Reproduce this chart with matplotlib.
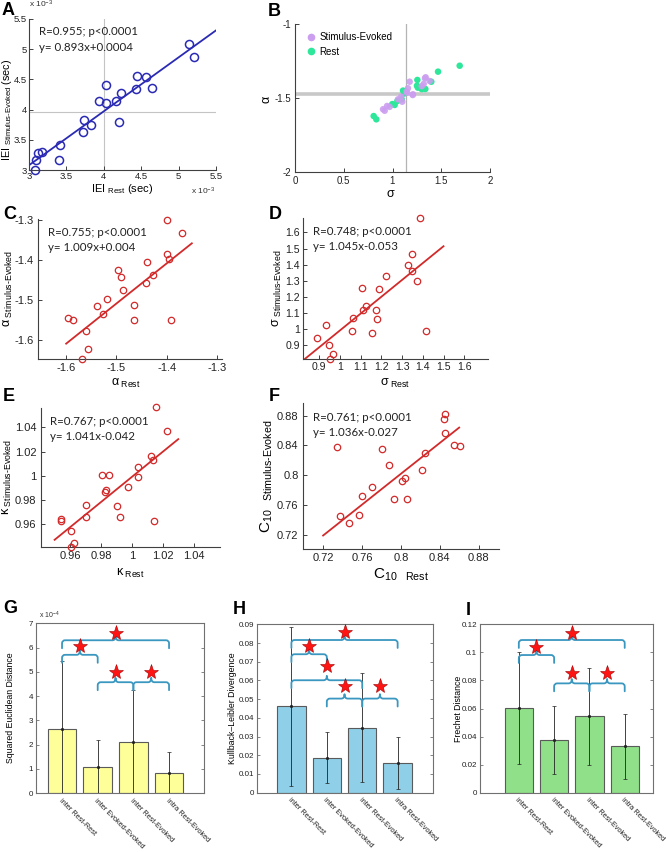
import numpy as np
import matplotlib
matplotlib.use('Agg')
import matplotlib.pyplot as plt
from matplotlib.path import Path
from matplotlib.patches import PathPatch
from matplotlib.ticker import FuncFormatter
from matplotlib.lines import Line2D

plt.rcParams['font.family'] = ['Liberation Sans', 'DejaVu Sans']
plt.rcParams['mathtext.fontset'] = 'custom'
plt.rcParams['mathtext.rm'] = 'Liberation Sans'
plt.rcParams['mathtext.it'] = 'Liberation Sans:italic'
plt.rcParams['mathtext.bf'] = 'Liberation Sans:bold'
plt.rcParams['axes.unicode_minus'] = False

# ---------------- data ----------------
# A: inter-event intervals (x 1e-3 s)
iei_rest = [5.139, 5.210, 4.439, 4.564, 4.430, 4.640, 4.025, 4.234, 3.931, 4.025, 4.159,
            4.199, 3.735, 3.824, 3.726, 3.414, 3.397, 3.089, 3.125, 3.169, 3.080]
iei_evoked = [5.092, 4.876, 4.551, 4.534, 4.336, 4.352, 4.402, 4.269, 4.137, 4.104, 4.142,
              3.789, 3.822, 3.740, 3.629, 3.419, 3.171, 3.160, 3.287, 3.298, 3.000]
fit_A = (0.893, 0.4)
iei_mean_rest = 4.0
iei_mean_evoked = 3.96

# B: sigma vs alpha
b_sigma_rest = [1.689, 1.467, 1.255, 1.251, 1.296, 1.337, 1.108, 0.998, 1.022, 0.807, 0.834,
                1.398, 1.120, 1.300, 1.260, 1.094, 1.050, 1.140]
b_alpha_rest = [-1.282, -1.322, -1.378, -1.417, -1.435, -1.439, -1.450, -1.541, -1.547, -1.622,
                -1.644, -1.390, -1.470, -1.440, -1.430, -1.509, -1.520, -1.460]
b_sigma_evoked = [1.176, 1.340, 1.381, 1.320, 1.159, 1.210, 1.149, 1.056, 1.100, 0.944, 0.903,
                  0.920, 1.090, 1.333, 1.300, 1.145, 0.970, 1.207]
b_alpha_evoked = [-1.390, -1.360, -1.385, -1.405, -1.434, -1.475, -1.464, -1.509, -1.525, -1.554,
                  -1.576, -1.586, -1.491, -1.367, -1.420, -1.457, -1.560, -1.480]
b_alpha_ref = -1.473
b_sigma_ref = 1.14

# C: alpha
alpha_rest = [-1.399, -1.369, -1.399, -1.396, -1.439, -1.496, -1.491, -1.427, -1.442, -1.486, -1.518,
              -1.539, -1.465, -1.526, -1.596, -1.586, -1.465, -1.391, -1.561, -1.557, -1.569]
alpha_evoked = [-1.300, -1.333, -1.386, -1.397, -1.406, -1.424, -1.443, -1.439, -1.459, -1.475, -1.497,
                -1.516, -1.514, -1.537, -1.547, -1.551, -1.551, -1.551, -1.579, -1.625, -1.648]
fit_C = (1.009, 0.004)

# D: sigma
sigma_rest = [1.384, 1.348, 1.327, 1.348, 1.223, 1.371, 1.108, 1.189, 1.126, 1.111, 1.174,
              1.181, 1.065, 1.058, 0.931, 1.155, 1.415, 0.887, 0.947, 0.965, 0.952]
sigma_evoked = [1.688, 1.469, 1.400, 1.363, 1.327, 1.296, 1.258, 1.250, 1.146, 1.117, 1.117,
                1.063, 1.071, 0.988, 1.025, 0.973, 0.988, 0.942, 0.902, 0.844, 0.815]
fit_D = (1.045, -0.053)

# E: kappa
kappa_rest = [1.0153, 1.0230, 1.0125, 1.0138, 1.0041, 1.0039, 0.9806, 0.9854, 0.9978, 0.9830, 0.9826,
              0.9701, 0.9901, 0.9701, 0.9925, 0.9540, 0.9542, 1.0146, 0.9606, 0.9628, 0.9606]
kappa_evoked = [1.0572, 1.0369, 1.0167, 1.0133, 1.0075, 0.9986, 1.0006, 1.0006, 0.9903, 0.9883, 0.9861,
                0.9761, 0.9750, 0.9656, 0.9656, 0.9644, 0.9625, 0.9625, 0.9539, 0.9439, 0.9411]
fit_E = (1.041, -0.042)

# F: C10
c10_rest = [0.8458, 0.8444, 0.8458, 0.8547, 0.8609, 0.7339, 0.7811, 0.8248, 0.7880, 0.8217,
            0.8041, 0.8010, 0.7708, 0.7601, 0.7928, 0.8062, 0.7573, 0.7377, 0.7470]
c10_evoked = [0.8818, 0.8751, 0.8568, 0.8402, 0.8393, 0.8380, 0.8349, 0.8304, 0.8143, 0.8063,
              0.7964, 0.7920, 0.7839, 0.7718, 0.7678, 0.7678, 0.7468, 0.7450, 0.7361]
fit_F = (1.036, -0.027)

stats_A = ['R=0.955; p<0.0001', 'y= 0.893x+0.0004']
stats_C = ['R=0.755; p<0.0001', 'y= 1.009x+0.004']
stats_D = ['R=0.748; p<0.0001', 'y= 1.045x-0.053']
stats_E = ['R=0.767; p<0.0001', 'y= 1.041x-0.042']
stats_F = ['R=0.761; p<0.0001', 'y= 1.036x-0.027']

# G-I bar charts
categories = ['inter Rest-Rest', 'inter Evoked-Evoked', 'inter Rest-Evoked', 'intra Rest-Evoked']
sed_mean = [2.65, 1.08, 2.10, 0.83]      # x 1e-4
sed_sd = [2.80, 1.12, 2.15, 0.87]
kl_mean = [0.0462, 0.0188, 0.0347, 0.0157]
kl_sd = [0.0426, 0.0138, 0.0292, 0.0139]
fr_mean = [0.0606, 0.0377, 0.0543, 0.0332]
fr_sd = [0.0399, 0.0242, 0.0348, 0.0232]

# significance brackets: (bar i, bar j, bracket level, star level)
sig_G = [(1, 4, 6.30, 6.62), (1, 2, 5.70, 6.05), (2, 3, 4.57, 4.98), (3, 4, 4.57, 4.98)]
sig_H = [(1, 4, 0.0816, 0.0857), (1, 2, 0.0740, 0.0785), (1, 3, 0.0601, 0.0675),
         (2, 3, 0.0503, 0.0568), (3, 4, 0.0503, 0.0568)]
sig_I = [(1, 4, 0.1088, 0.1140), (1, 2, 0.0981, 0.1040), (2, 3, 0.0779, 0.0855), (3, 4, 0.0779, 0.0855)]

# ---------------- figure ----------------
W, H = 666, 852
fig = plt.figure(figsize=(W / 100, H / 100), dpi=100)


def add_ax(left, top, right, bottom):
    return fig.add_axes([left / W, 1 - bottom / H, (right - left) / W, (bottom - top) / H])


fmt = FuncFormatter(lambda v, p: ('%g' % round(v, 6)))
SPINE = '#404040'
RED = '#d22a2a'
BLUE = '#2a2ab4'


def style_open(ax, fs, pad=3):
    for s in ('top', 'right'):
        ax.spines[s].set_visible(False)
    for s in ('left', 'bottom'):
        ax.spines[s].set_color(SPINE)
        ax.spines[s].set_linewidth(0.8)
    ax.tick_params(direction='in', length=3, width=0.7, labelsize=fs, colors=SPINE,
                   labelcolor='#222222', pad=pad)
    ax.xaxis.set_major_formatter(fmt)
    ax.yaxis.set_major_formatter(fmt)


def scatter_panel(ax, x, y, fit, xr, color, ms, mew, stats, tpos, fs, pad=3):
    ax.plot(x, y, 'o', mfc='none', mec=color, ms=ms, mew=mew, clip_on=False, zorder=3)
    xx = np.array(xr)
    ax.plot(xx, fit[0] * xx + fit[1], color=color, lw=1.3, zorder=2)
    style_open(ax, fs, pad)
    ax.text(tpos[0], tpos[1], stats[0], transform=ax.transAxes, fontsize=8.3,
            family=['Lato', 'DejaVu Sans'], color='#222222', va='center', ha='left')
    ax.text(tpos[0], tpos[2], stats[1], transform=ax.transAxes, fontsize=8.3,
            family=['Lato', 'DejaVu Sans'], color='#222222', va='center', ha='left')


# ---- A ----
axA = add_ax(29, 19, 216, 170)
axA.axvline(iei_mean_rest, color='#c4c4c4', lw=0.8, zorder=1)
axA.axhline(iei_mean_evoked, color='#c4c4c4', lw=0.8, zorder=1)
scatter_panel(axA, iei_rest, iei_evoked, fit_A, (3.0, 5.5), BLUE, 5.8, 1.1, stats_A,
              (0.055, 0.914, 0.808), 6.8, pad=1.5)
axA.set_xlim(3, 5.5)
axA.set_ylim(3, 5.5)
axA.set_xticks([3, 3.5, 4, 4.5, 5, 5.5])
axA.set_yticks([3, 3.5, 4, 4.5, 5, 5.5])
axA.set_xlabel(r'IEI ${}_{\text{Rest}}$ (sec)', fontsize=8)
axA.xaxis.set_label_coords(0.5, -0.08)
axA.set_ylabel(r'IEI ${}_{\text{Stimulus-Evoked}}$ (sec)', fontsize=7.8)
axA.yaxis.set_label_coords(-0.08, 0.40)
axA.text(0.0, 1.095, r'x 10$^{\mathregular{-3}}$', transform=axA.transAxes, fontsize=6,
         color='#333333', ha='left', va='center')
axA.text(0.995, -0.14, r'x 10$^{\mathregular{-3}}$', transform=axA.transAxes, fontsize=6,
         color='#333333', ha='right', va='center')

# ---- B ----
axB = add_ax(295, 24, 490, 172)
axB.axhline(b_alpha_ref, color='#c8c8c8', lw=2.6, zorder=1)
axB.axvline(b_sigma_ref, color='#b4b4b4', lw=0.9, zorder=1)
axB.scatter(b_sigma_rest, b_alpha_rest, s=22, color='#2ee79b', edgecolors='none', zorder=3)
axB.scatter(b_sigma_evoked, b_alpha_evoked, s=22, color='#cc9ef0', edgecolors='none', zorder=3,
            alpha=0.9)
style_open(axB, 7)
axB.set_xlim(0, 2)
axB.set_ylim(-2, -1)
axB.set_xticks([0, 0.5, 1, 1.5, 2])
axB.set_yticks([-2, -1.5, -1])
axB.set_xlabel(r'$\mathregular{σ}$', fontsize=9)
axB.xaxis.set_label_coords(0.49, -0.108)
axB.set_ylabel(r'$\mathregular{α}$', fontsize=9, rotation=90)
axB.yaxis.set_label_coords(-0.113, 0.49)
hB = [Line2D([], [], marker='o', ls='none', color='#cc9ef0', ms=4.5),
      Line2D([], [], marker='o', ls='none', color='#2ee79b', ms=4.5)]
axB.legend(hB, ['Stimulus-Evoked', 'Rest'], loc='upper left', bbox_to_anchor=(0.03, 0.97),
           frameon=False, fontsize=7, handletextpad=0.3, borderaxespad=0, labelspacing=0.45,
           handlelength=1.2)

# ---- C ----
axC = add_ax(38, 219, 222, 359)
scatter_panel(axC, alpha_rest, alpha_evoked, fit_C, (-1.6, -1.35), RED, 4.6, 0.9, stats_C,
              (0.056, 0.907, 0.795), 8)
axC.set_xlim(-1.656, -1.29)
axC.set_ylim(-1.649, -1.297)
axC.set_xticks([-1.6, -1.5, -1.4, -1.3])
axC.set_yticks([-1.6, -1.5, -1.4, -1.3])
axC.set_xlabel(r'$\mathregular{α}{}_{\ \text{Rest}}$', fontsize=9)
axC.xaxis.set_label_coords(0.48, -0.126)
axC.set_ylabel(r'$\mathregular{α}{}_{\ \text{Stimulus-Evoked}}$', fontsize=9)
axC.yaxis.set_label_coords(-0.125, 0.5)

# ---- D ----
axD = add_ax(303, 218, 488, 359)
scatter_panel(axD, sigma_rest, sigma_evoked, fit_D, (0.8, 1.5), RED, 4.6, 0.9, stats_D,
              (0.052, 0.903, 0.801), 7.6, pad=2)
axD.set_xlim(0.821, 1.715)
axD.set_ylim(0.814, 1.69)
axD.set_xticks([0.9, 1, 1.1, 1.2, 1.3, 1.4, 1.5, 1.6])
axD.set_yticks([0.9, 1, 1.1, 1.2, 1.3, 1.4, 1.5, 1.6])
axD.set_xlabel(r'$\mathregular{σ}{}_{\ \text{Rest}}$', fontsize=9)
axD.xaxis.set_label_coords(0.50, -0.125)
axD.set_ylabel(r'$\mathregular{σ}{}_{\ \text{Stimulus-Evoked}}$', fontsize=9)
axD.yaxis.set_label_coords(-0.10, 0.5)

# ---- E ----
axE = add_ax(40.7, 408, 220, 547)
scatter_panel(axE, kappa_rest, kappa_evoked, fit_E, (0.95, 1.03), RED, 4.6, 0.9, stats_E,
              (0.052, 0.906, 0.794), 8)
axE.set_xlim(0.941, 1.057)
axE.set_ylim(0.941, 1.056)
axE.set_xticks([0.96, 0.98, 1, 1.02, 1.04])
axE.set_yticks([0.96, 0.98, 1, 1.02, 1.04])
axE.set_xlabel(r'$\mathregular{κ}{}_{\ \text{Rest}}$', fontsize=9)
axE.xaxis.set_label_coords(0.50, -0.14)
axE.set_ylabel(r'$\mathregular{κ}{}_{\ \text{Stimulus-Evoked}}$', fontsize=9)
axE.yaxis.set_label_coords(-0.149, 0.5)

# ---- F ----
axF = add_ax(302.7, 403, 499, 549)
scatter_panel(axF, c10_rest, c10_evoked, fit_F, (0.72, 0.86), RED, 4.6, 0.9, stats_F,
              (0.054, 0.899, 0.797), 8)
axF.set_xlim(0.699, 0.901)
axF.set_ylim(0.7008, 0.897)
axF.set_xticks([0.72, 0.76, 0.8, 0.84, 0.88])
axF.set_yticks([0.72, 0.76, 0.8, 0.84, 0.88])
axF.set_xlabel(r'$\mathregular{C}_{\mathregular{10}}\ \ {}_{\text{Rest}}$', fontsize=11)
axF.xaxis.set_label_coords(0.50, -0.12)
axF.set_ylabel(r'$\mathregular{C}_{\mathregular{10}}\ \ {}_{\text{Stimulus-Evoked}}$', fontsize=11)
axF.yaxis.set_label_coords(-0.141, 0.5)


# ---- bar panels ----
def bracket(ax, i, j, level, star):
    y0, y1 = ax.get_ylim()
    x0, x1 = ax.get_xlim()
    hh, ww = y1 - y0, x1 - x0
    d, p, r, rx = 0.047 * hh, 0.026 * hh, 0.018 * hh, 0.018 * ww
    xm = (i + j) / 2
    verts = [(i, level - d), (i, level - r), (i, level), (i + rx, level), (xm - rx, level),
             (xm, level), (xm, level + p), (xm, level), (xm + rx, level), (j - rx, level),
             (j, level), (j, level - r), (j, level - d)]
    codes = [Path.MOVETO, Path.LINETO, Path.CURVE3, Path.CURVE3, Path.LINETO, Path.CURVE3,
             Path.CURVE3, Path.CURVE3, Path.CURVE3, Path.LINETO, Path.CURVE3, Path.CURVE3,
             Path.LINETO]
    ax.add_patch(PathPatch(Path(verts, codes), fill=False, edgecolor='#3a97c0', lw=1.3,
                           zorder=4, capstyle='round', joinstyle='round'))
    ax.plot([xm], [star], marker='*', ms=11, color='#ff1414', mec='#a00000', mew=0.4,
            zorder=5, clip_on=False)


def bar_panel(ax, means, sds, color, xlim, ylim, yticks, ylabel, ylab_x, sigs):
    x = np.arange(1, len(means) + 1)
    ax.bar(x, means, width=0.8, color=color, edgecolor='#5a5a5a', lw=0.8, zorder=2)
    ax.errorbar(x, means, yerr=sds, fmt='.', color='#222222', ms=2.5, elinewidth=0.6,
                capsize=1.2, capthick=0.5, zorder=3)
    ax.set_xlim(*xlim)
    ax.set_ylim(*ylim)
    ax.set_yticks(yticks)
    ax.yaxis.set_major_formatter(fmt)
    ax.set_xticks(x)
    ax.set_xticklabels(categories, rotation=-45, ha='left', va='top', rotation_mode='anchor',
                       fontsize=5.3)
    for s in ax.spines.values():
        s.set_color('#707070')
        s.set_linewidth(0.8)
    ax.tick_params(axis='y', direction='in', length=2.5, width=0.6, labelsize=5.8,
                   right=True, colors='#707070', labelcolor='#222222', pad=2)
    ax.tick_params(axis='x', direction='in', length=0, labelsize=5.3, pad=3,
                   labelcolor='#222222')
    ax.set_ylabel(ylabel, fontsize=6.3)
    ax.yaxis.set_label_coords(ylab_x, 0.5)
    for (i, j, lv, st) in sigs:
        bracket(ax, i, j, lv, st)


axG = add_ax(36, 623.3, 204, 793)
bar_panel(axG, sed_mean, sed_sd, '#ffff99', (0.27, 4.98), (0, 7), range(0, 8),
          'Squared Euclidean Distance', -0.125, sig_G)
axG.text(0.02, 1.045, r'x 10$^{\mathregular{-4}}$', transform=axG.transAxes, fontsize=5,
         color='#333333', ha='left', va='center')

axH = add_ax(256.7, 624.3, 432.7, 792.7)
bar_panel(axH, kl_mean, kl_sd, '#8fd0e8', (0.02, 4.99), (0, 0.09), np.arange(0, 0.0901, 0.01),
          'Kullback\u2013Leibler Divergence', -0.112, sig_H)

axI = add_ax(480, 624.3, 653.3, 792.7)
bar_panel(axI, fr_mean, fr_sd, '#90e08a', (-0.10, 4.81), (0, 0.12), np.arange(0, 0.1201, 0.02),
          'Frechet Distance', -0.098, sig_I)

# ---- panel letters ----
letters = {'A': (2, 2), 'B': (268, 3), 'C': (3, 206), 'D': (269, 206), 'E': (3, 388),
           'F': (269, 388), 'G': (3, 600), 'H': (233, 601), 'I': (466, 602)}
for k, (lx, ly) in letters.items():
    fig.text(lx / W, 1 - ly / H, k, fontsize=13, fontweight='bold', ha='left', va='top')

fig.savefig('out.png', dpi=100)
